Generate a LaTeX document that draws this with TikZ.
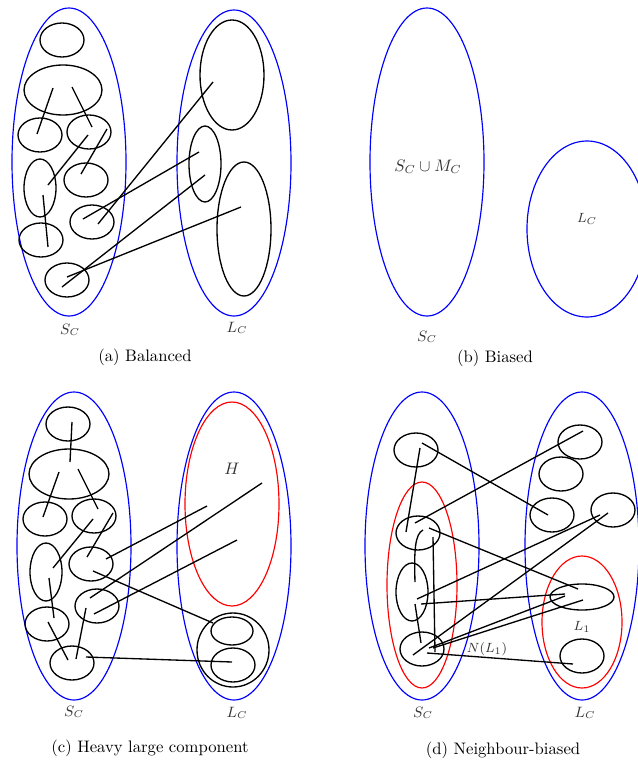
\documentclass[tikz,border=0pt]{standalone}
\usepackage{amsmath, amssymb}
\usetikzlibrary{positioning}

\tikzset{
  grp/.style={draw=blue, line width=0.7pt},
  nbhd/.style={draw=red, line width=0.7pt},
  comp/.style={draw=black, line width=0.8pt},
  edge/.style={black, line width=0.8pt},
  lbl/.style={text=black!80, font=\small, inner sep=1pt},
  capt/.style={inner sep=1pt},
}

\begin{document}
\begin{tikzpicture}[x=0.6pt, y=-0.6pt]
  \useasboundingbox (0,0) rectangle (637,765);

  % (a) Balanced
  \draw[grp] (69,162) ellipse (57 and 154);
  \draw[grp] (234,163) ellipse (57 and 153);
  \draw[comp] (62,40) ellipse (22 and 17);
  \draw[comp] (63,90) ellipse (39 and 25);
  \draw[comp] (40,135) ellipse (22 and 17);
  \draw[comp] (89,132) ellipse (22 and 17);
  \draw[comp] (40,188) ellipse (16 and 29);
  \draw[comp] (86,180) ellipse (22 and 17);
  \draw[comp] (92,222) ellipse (22 and 17);
  \draw[comp] (41,240) ellipse (22 and 17);
  \draw[comp] (67,280) ellipse (22 and 17);
  \draw[comp] (232,75) ellipse (32 and 55);
  \draw[comp] (205,164) ellipse (16 and 38);
  \draw[comp] (244,229) ellipse (27 and 67);
  \draw[edge] (53,88) -- (37,134);
  \draw[edge] (72,87) -- (92,127);
  \draw[edge] (88,135) -- (48,185);
  \draw[edge] (107,129) -- (81,174);
  \draw[edge] (43,195) -- (48,247);
  \draw[edge] (213,82) -- (98,224);
  \draw[edge] (199,152) -- (83,219);
  \draw[edge] (205,175) -- (62,287);
  \draw[edge] (241,207) -- (67,277);
  \node[lbl] (sa) at (70,330) {$S_C$};
  \node[lbl] (la) at (237,328) {$L_C$};
  \node[capt] (capa) at (145,357) {(a) Balanced};

  % (b) Biased
  \draw[grp] (427,162) ellipse (57 and 154);
  \draw[grp] (587,229) ellipse (60 and 88);
  \node[lbl, font=\normalsize] (smb) at (428,167) {$S_C \cup M_C$};
  \node[lbl, font=\footnotesize] (lb) at (587,219) {$L_C$};
  \node[lbl] (sb) at (427,337) {$S_C$};
  \node[capt] (capb) at (495,358) {(b) Biased};

  % (c) Heavy large component
  \draw[grp] (74,546) ellipse (57 and 154);
  \draw[grp] (234,546) ellipse (57 and 154);
  \draw[nbhd] (232,504) ellipse (47 and 102);
  \draw[comp] (233,650) ellipse (36 and 37);
  \draw[comp] (232,631) ellipse (21 and 14);
  \draw[comp] (233,665) ellipse (22 and 17);
  \draw[comp] (68,424) ellipse (22 and 17);
  \draw[comp] (69,474) ellipse (40 and 25);
  \draw[comp] (45,519) ellipse (22 and 17);
  \draw[comp] (94,516) ellipse (22 and 17);
  \draw[comp] (46,572) ellipse (16 and 29);
  \draw[comp] (91,564) ellipse (22 and 17);
  \draw[comp] (97,606) ellipse (22 and 17);
  \draw[comp] (47,624) ellipse (22 and 17);
  \draw[comp] (72,663) ellipse (22 and 17);
  \draw[edge] (72,422) -- (70,462);
  \draw[edge] (59,472) -- (43,517);
  \draw[edge] (78,469) -- (98,509);
  \draw[edge] (93,519) -- (53,568);
  \draw[edge] (113,513) -- (87,557);
  \draw[edge] (49,578) -- (54,618);
  \draw[edge] (48,622) -- (68,660);
  \draw[edge] (86,608) -- (76,659);
  \draw[edge] (106,559) -- (207,506);
  \draw[edge] (90,598) -- (262,483);
  \draw[edge] (94,614) -- (237,540);
  \draw[edge] (93,571) -- (213,623);
  \draw[edge] (86,657) -- (232,662);
  \node[lbl, font=\normalsize] (hc) at (232,469) {$H$};
  \node[lbl] (sc) at (74,712) {$S_C$};
  \node[lbl] (lc) at (237,713) {$L_C$};
  \node[capt] (capc) at (150,748) {(c) Heavy large component};

  % (d) Neighbour-biased
  \draw[grp] (422,546) ellipse (57 and 154);
  \draw[grp] (582,546) ellipse (57 and 154);
  \draw[nbhd] (422,585) ellipse (35 and 103);
  \draw[nbhd] (582,622) ellipse (40 and 66);
  \draw[comp] (416,450) ellipse (22 and 17);
  \draw[comp] (418,533) ellipse (22 and 17);
  \draw[comp] (412,592) ellipse (16 and 29);
  \draw[comp] (422,649) ellipse (22 and 17);
  \draw[comp] (580,442) ellipse (22 and 17);
  \draw[comp] (561,474) ellipse (22 and 17);
  \draw[comp] (552,515) ellipse (22 and 17);
  \draw[comp] (613,510) ellipse (22 and 17);
  \draw[comp] (582,597) ellipse (32 and 13);
  \draw[comp] (582,656) ellipse (22 and 17);
  \draw[edge] (420,448) -- (406,532);
  \draw[edge] (422,443) -- (548,515);
  \draw[edge] (415,523) -- (583,431);
  \draw[edge] (423,530) .. controls (415,534) and (414,550) .. (415,582);
  \draw[edge] (429,528) -- (578,589);
  \draw[edge] (433,537) -- (435,652);
  \draw[edge] (417,599) -- (600,515);
  \draw[edge] (421,604) -- (565,594);
  \draw[edge] (415,604) -- (421,643);
  \draw[edge] (413,655) -- (608,513);
  \draw[edge] (429,648) -- (565,596);
  \draw[edge] (433,648) -- (583,600);
  \draw[edge] (427,653) -- (573,664);
  \node[lbl, font=\footnotesize] (nl) at (487,649) {$N(L_1)$};
  \node[lbl, font=\footnotesize] (lone) at (582,627) {$L_1$};
  \node[lbl] (sd) at (423,713) {$S_C$};
  \node[lbl] (ld) at (585,713) {$L_C$};
  \node[capt] (capd) at (503,750) {(d) Neighbour-biased};
\end{tikzpicture}
\end{document}
